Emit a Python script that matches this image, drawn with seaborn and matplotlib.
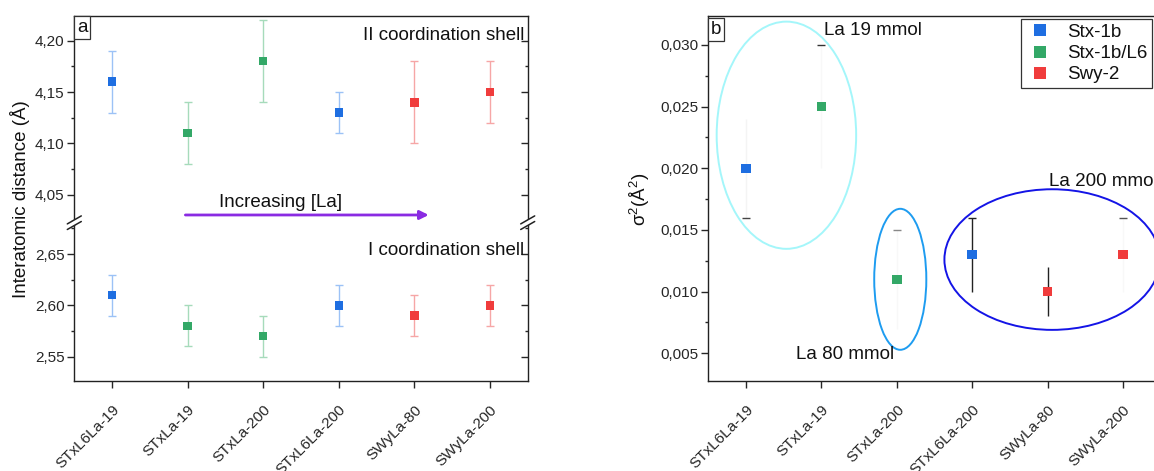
import numpy as np
import pandas as pd
import matplotlib
matplotlib.use('Agg')
import matplotlib.pyplot as plt
import seaborn as sns
from matplotlib.patches import Ellipse, Polygon
from matplotlib.lines import Line2D
from matplotlib.ticker import MultipleLocator, FuncFormatter
import matplotlib.transforms as mtrans

# ---------------- data ----------------
samples = ['STxL6La-19', 'STxLa-19', 'STxLa-200', 'STxL6La-200', 'SWyLa-80', 'SWyLa-200']
clay = ['Stx-1b', 'Stx-1b/L6', 'Stx-1b/L6', 'Stx-1b', 'Swy-2', 'Swy-2']
clay_order = ['Stx-1b', 'Stx-1b/L6', 'Swy-2']
shell2 = [4.16, 4.11, 4.18, 4.13, 4.14, 4.15]
shell2_err = [0.03, 0.03, 0.04, 0.02, 0.04, 0.03]
shell1 = [2.61, 2.58, 2.57, 2.60, 2.59, 2.60]
shell1_err = [0.02, 0.02, 0.02, 0.02, 0.02, 0.02]
sigma2 = [0.020, 0.025, 0.011, 0.013, 0.010, 0.013]
sigma2_err = [0.004, 0.005, 0.004, 0.003, 0.002, 0.003]

# ---------------- styles ----------------
palette = {'Stx-1b': '#1E6EE1', 'Stx-1b/L6': '#33A867', 'Swy-2': '#F03C3C'}
light = {'Stx-1b': '#9CC2F6', 'Stx-1b/L6': '#A6DBBB', 'Swy-2': '#F6A6A6'}
b_bar_color = ['#f4f4f4', '#f8f8f8', '#f8f8f8', '#222222', '#222222', '#f8f8f8']
b_cap_side = ['low', 'high', 'high', 'high', None, 'high']
b_cap_color = ['#444444', '#333333', '#888888', '#222222', None, '#555555']

df = pd.DataFrame({'sample': samples, 'clay': clay, 'shell2': shell2, 'shell2_err': shell2_err,
                   'shell1': shell1, 'shell1_err': shell1_err, 'sigma2': sigma2,
                   'sigma2_err': sigma2_err})
df['pos'] = np.arange(len(samples))

sns.set_theme(style='ticks')
plt.rcParams['font.family'] = ['Liberation Sans', 'DejaVu Sans']
plt.rcParams['mathtext.fontset'] = 'custom'
plt.rcParams['mathtext.rm'] = 'Liberation Sans'
plt.rcParams['mathtext.it'] = 'Liberation Sans:italic'
plt.rcParams['axes.linewidth'] = 1.0
plt.rcParams['text.color'] = '#111111'

W, H = 1154, 471
fig = plt.figure(figsize=(W / 100, H / 100), dpi=100)


def rect(l, t, r, b):
    return [l / W, 1 - b / H, (r - l) / W, (b - t) / H]


axU = fig.add_axes(rect(74.3, 15.7, 527.7, 222.7))
axL = fig.add_axes(rect(74.3, 222.7, 527.7, 381))
axR = fig.add_axes(rect(708.3, 15.7, 1160.7, 381))

TICK_FS = 11
ANN_FS = 13.5
fmt2 = FuncFormatter(lambda v, p: f'{v:.2f}'.replace('.', ','))
fmt3 = FuncFormatter(lambda v, p: f'{v:.3f}'.replace('.', ','))
label_shift = mtrans.ScaledTranslation(5 / 100, 0, fig.dpi_scale_trans)

# ---------------- left panel ----------------
for ax, col, ecol in [(axU, 'shell2', 'shell2_err'), (axL, 'shell1', 'shell1_err')]:
    for c in clay_order:
        sub = df[df['clay'] == c]
        ax.errorbar(sub['pos'], sub[col], yerr=sub[ecol], fmt='none', ecolor=light[c],
                    elinewidth=1.0, capsize=3, capthick=1.0, zorder=2)
    sns.scatterplot(data=df, x='pos', y=col, hue='clay', hue_order=clay_order, palette=palette,
                    marker='s', s=38, linewidth=0, legend=False, ax=ax, zorder=3)
    ax.set_xlim(-0.5, 5.5)
    ax.yaxis.set_major_locator(MultipleLocator(0.05))
    ax.yaxis.set_minor_locator(MultipleLocator(0.025))
    ax.yaxis.set_major_formatter(fmt2)
    ax.set_xlabel('')
    ax.set_ylabel('')
    ax.tick_params(axis='y', which='major', direction='out', length=5, width=1,
                   labelsize=TICK_FS, left=True, right=False, pad=2)
    ax.tick_params(axis='y', which='minor', direction='out', length=2.5, width=1, left=True, right=False)
    # inward ticks on the right spine
    axr = ax.secondary_yaxis('right')
    axr.yaxis.set_major_locator(MultipleLocator(0.05))
    axr.yaxis.set_minor_locator(MultipleLocator(0.025))
    axr.tick_params(axis='y', which='major', direction='in', length=5, width=1, labelright=False)
    axr.tick_params(axis='y', which='minor', direction='in', length=2.5, width=1)
    axr.spines['right'].set_visible(False)
    for s in ax.spines.values():
        s.set_color('#222222')

axU.set_ylim(4.023, 4.2242)
axL.set_ylim(2.5263, 2.6805)
axU.spines['bottom'].set_visible(False)
axU.tick_params(axis='x', bottom=False, labelbottom=False)
axL.spines['top'].set_visible(False)
axL.set_xticks(df['pos'])
axL.set_xticklabels(samples)
axL.tick_params(axis='x', direction='out', length=5, width=1, labelsize=TICK_FS, pad=14)

axU.text(5.45, 4.2048, 'II coordination shell', ha='right', va='center', fontsize=ANN_FS)
axL.text(5.45, 2.6539, 'I coordination shell', ha='right', va='center', fontsize=ANN_FS)
axU.annotate('', xy=(4.19, 4.0305), xytext=(0.97, 4.0305),
             arrowprops=dict(arrowstyle='-|>', color='#8a2be2', lw=2.0, mutation_scale=13,
                             shrinkA=0, shrinkB=0))
axU.text(1.41, 4.0427, 'Increasing [La]', ha='left', va='center', fontsize=ANN_FS)
axU.text(0.006, 0.985, 'a', transform=axU.transAxes, ha='left', va='top', fontsize=ANN_FS,
         bbox=dict(boxstyle='square,pad=0.15', fc='white', ec='#333333', lw=0.9))

fig.text(19.8 / W, 1 - 199 / H, 'Interatomic distance (Å)', rotation=90, ha='center',
         va='center', fontsize=ANN_FS)

# axis break marks
pix = mtrans.Affine2D().scale(1 / W, -1 / H).translate(0, 1) + fig.transFigure
for xb in (74.3, 527.7):
    yb = 222.7
    poly = Polygon([(xb - 3, yb + 4.5), (xb + 3, yb + 1.0), (xb + 3, yb - 4.5), (xb - 3, yb - 1.0)],
                   closed=True, fc='white', ec='none', transform=pix, zorder=10)
    fig.add_artist(poly)
    for dy in (-2.8, 2.8):
        fig.add_artist(Line2D([xb - 7, xb + 7], [yb + 4 + dy, yb - 4 + dy], color='#222222',
                              lw=1.1, transform=pix, zorder=11))

for lbl in axL.get_xticklabels():
    lbl.set_rotation(45)
    lbl.set_ha('right')
    lbl.set_va('center')
    lbl.set_rotation_mode('anchor')
    lbl.set_transform(lbl.get_transform() + label_shift)

# ---------------- right panel ----------------
for i, row in df.iterrows():
    axR.errorbar(row['pos'], row['sigma2'], yerr=row['sigma2_err'], fmt='none',
                 ecolor=b_bar_color[i], elinewidth=1.0, capsize=0, zorder=2)
    if b_cap_side[i] is not None:
        ycap = row['sigma2'] + (row['sigma2_err'] if b_cap_side[i] == 'high' else -row['sigma2_err'])
        axR.plot([row['pos']], [ycap], marker='_', ms=6, mew=1.0, color=b_cap_color[i],
                 linestyle='none', zorder=2)
sns.scatterplot(data=df, x='pos', y='sigma2', hue='clay', hue_order=clay_order, palette=palette,
                marker='s', s=46, linewidth=0, legend=False, ax=axR, zorder=3)
axR.set_xlim(-0.5, 5.5)
axR.set_ylim(0.002755, 0.03237)
axR.yaxis.set_major_locator(MultipleLocator(0.005))
axR.yaxis.set_minor_locator(MultipleLocator(0.0025))
axR.yaxis.set_major_formatter(fmt3)
axR.set_xticks(df['pos'])
axR.set_xticklabels(samples)
axR.set_xlabel('')
axR.set_ylabel('')
axR.tick_params(axis='y', which='major', direction='out', length=5, width=1, labelsize=TICK_FS, pad=2)
axR.tick_params(axis='y', which='minor', direction='out', length=2.5, width=1, left=True)
axR.tick_params(axis='x', direction='out', length=5, width=1, labelsize=TICK_FS, pad=14)
for s in axR.spines.values():
    s.set_color('#222222')
for lbl in axR.get_xticklabels():
    lbl.set_rotation(45)
    lbl.set_ha('right')
    lbl.set_va('center')
    lbl.set_rotation_mode('anchor')
    lbl.set_transform(lbl.get_transform() + label_shift)

axR.add_patch(Ellipse((0.536, 0.02268), 1.85, 0.01842, fill=False, ec='#A4F6FA', lw=1.4, zorder=1))
axR.add_patch(Ellipse((2.046, 0.0110), 0.691, 0.01143, fill=False, ec='#1E9CF0', lw=1.4, zorder=1))
axR.add_patch(Ellipse((4.06, 0.0126), 2.857, 0.0114, fill=False, ec='#1414E6', lw=1.4, zorder=1))
axR.text(1.03, 0.0312, 'La 19 mmol', ha='left', va='center', fontsize=ANN_FS)
axR.text(0.66, 0.00488, 'La 80 mmol', ha='left', va='center', fontsize=ANN_FS)
axR.text(4.02, 0.01892, 'La 200 mmol', ha='left', va='center', fontsize=ANN_FS)
axR.text(0.006, 0.985, 'b', transform=axR.transAxes, ha='left', va='top', fontsize=ANN_FS,
         bbox=dict(boxstyle='square,pad=0.15', fc='white', ec='#333333', lw=0.9))

fig.text(640 / W, 1 - 199 / H, r'σ$^{2}$(Å$^{2}$)', rotation=90, ha='center', va='center',
         fontsize=ANN_FS)

handles = [Line2D([0], [0], marker='s', linestyle='none', markersize=8, markeredgewidth=0,
                  color=palette[c]) for c in clay_order]
leg = axR.legend(handles, clay_order, loc='upper right', bbox_to_anchor=(1151.7 / W, 1 - 19 / H),
                 bbox_transform=fig.transFigure, borderaxespad=0, frameon=True, fancybox=False,
                 framealpha=1, edgecolor='#333333', fontsize=ANN_FS, labelspacing=0.22,
                 handletextpad=0.6, borderpad=0.25, handlelength=1.6)
leg.get_frame().set_linewidth(0.9)

fig.savefig('out.png', dpi=100)
